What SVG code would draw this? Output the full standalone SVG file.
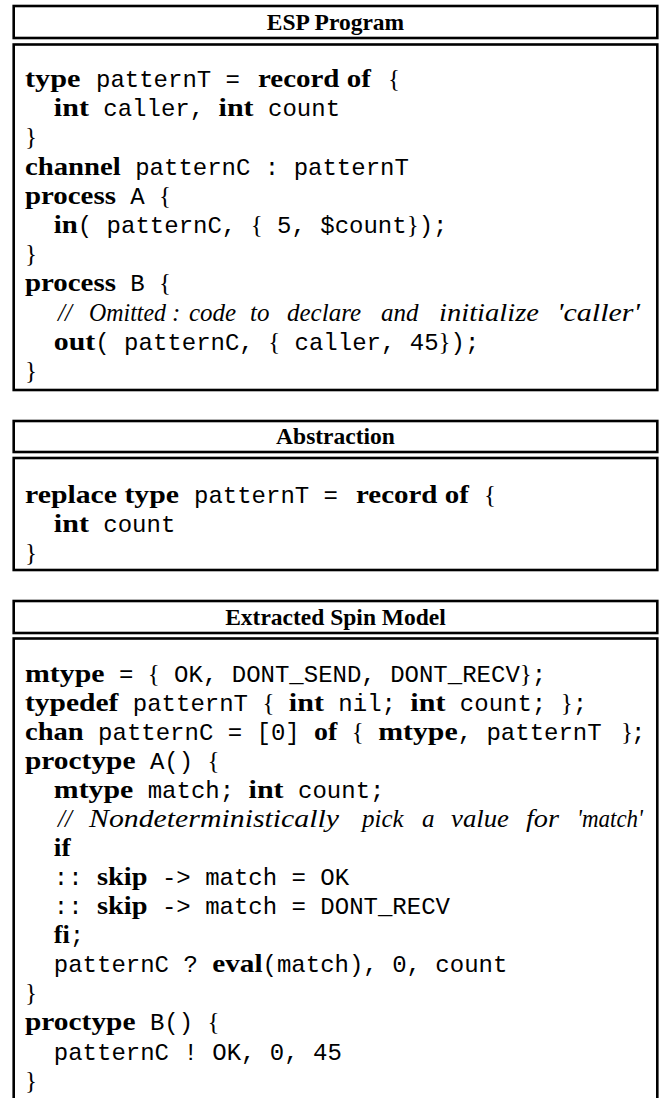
<svg xmlns="http://www.w3.org/2000/svg" width="659" height="1098" viewBox="0 0 659 1098" xml:space="preserve">
<style>
rect.b { fill: none; stroke: #000; stroke-width: 2.6; }
text { white-space: pre; fill: #000; }
.t { font-family: "Liberation Serif", serif; font-weight: bold; font-size: 23.5px; text-anchor: middle; }
.code { font-family: "Liberation Mono", monospace; font-size: 24px; }
.k { font-family: "Liberation Serif", serif; font-weight: bold; font-size: 25px; }
.r { font-family: "Liberation Serif", serif; font-size: 25px; }
.i { font-family: "Liberation Serif", serif; font-style: italic; font-size: 25px; }
</style>
<rect x="0" y="0" width="659" height="1098" fill="#fff"/>
<g id="esp-title">
<rect class="b" x="13.7" y="6" width="643.6" height="32"/>
<text class="t" x="335.5" y="30">ESP Program</text>
</g>
<g id="esp-program">
<rect class="b" x="13.7" y="44.5" width="643.6" height="345.5"/>
<text class="code" x="25" y="87"><tspan class="k" textLength="55.5" lengthAdjust="spacingAndGlyphs">type</tspan><tspan x="96">patternT =</tspan><tspan class="k" x="258" textLength="112.8" lengthAdjust="spacingAndGlyphs">record of</tspan><tspan class="r" x="388">{</tspan></text>
<text class="code" x="25" y="116">  <tspan class="k" textLength="35.1" lengthAdjust="spacingAndGlyphs">int</tspan> caller, <tspan class="k" textLength="35.1" lengthAdjust="spacingAndGlyphs">int</tspan> count</text>
<text class="r" x="25" y="145">}</text>
<text class="code" x="25" y="175"><tspan class="k" textLength="95.8" lengthAdjust="spacingAndGlyphs">channel</tspan> patternC : patternT</text>
<text class="code" x="25" y="204"><tspan class="k" textLength="90.9" lengthAdjust="spacingAndGlyphs">process</tspan> A <tspan class="r">{</tspan></text>
<text class="code" x="25" y="233">  <tspan class="k" textLength="24" lengthAdjust="spacingAndGlyphs">in</tspan>( patternC, <tspan class="r">{</tspan> 5, $count<tspan class="r">}</tspan>);</text>
<text class="r" x="25" y="262">}</text>
<text class="code" x="25" y="291"><tspan class="k" textLength="90.9" lengthAdjust="spacingAndGlyphs">process</tspan> B <tspan class="r">{</tspan></text>
<text class="i" y="321"><tspan class="r" x="58">//</tspan><tspan x="89" textLength="77" lengthAdjust="spacingAndGlyphs">Omitted</tspan><tspan class="r" x="172">:</tspan><tspan x="189">code</tspan><tspan x="250">to</tspan><tspan x="287">declare</tspan><tspan x="381">and</tspan><tspan x="439" textLength="100" lengthAdjust="spacingAndGlyphs">initialize</tspan><tspan x="557" textLength="83" lengthAdjust="spacingAndGlyphs">'caller'</tspan></text>
<text class="code" x="25" y="350">  <tspan class="k" textLength="41.5" lengthAdjust="spacingAndGlyphs">out</tspan>( patternC, <tspan class="r">{</tspan> caller, 45<tspan class="r">}</tspan>);</text>
<text class="r" x="25" y="379">}</text>
</g>
<g id="abstraction-title">
<rect class="b" x="13.7" y="421" width="643.6" height="31"/>
<text class="t" x="335.5" y="444">Abstraction</text>
</g>
<g id="abstraction">
<rect class="b" x="13.7" y="458" width="643.6" height="112"/>
<text class="code" x="25" y="503"><tspan class="k" textLength="154" lengthAdjust="spacingAndGlyphs">replace type</tspan><tspan x="194">patternT =</tspan><tspan class="k" x="356" textLength="112.8" lengthAdjust="spacingAndGlyphs">record of</tspan><tspan class="r" x="484">{</tspan></text>
<text class="code" x="25" y="532">  <tspan class="k" textLength="35.1" lengthAdjust="spacingAndGlyphs">int</tspan> count</text>
<text class="r" x="25" y="561">}</text>
</g>
<g id="spin-title">
<rect class="b" x="13.7" y="601" width="643.6" height="32"/>
<text class="t" x="335.5" y="625">Extracted Spin Model</text>
</g>
<g id="spin-model">
<rect class="b" x="13.7" y="638.5" width="643.6" height="480"/>
<text class="code" x="25" y="682"><tspan class="k" textLength="79.5" lengthAdjust="spacingAndGlyphs">mtype</tspan> = <tspan class="r">{</tspan> OK, DONT_SEND, DONT_RECV<tspan class="r">}</tspan>;</text>
<text class="code" x="25" y="711"><tspan class="k" textLength="93.4" lengthAdjust="spacingAndGlyphs">typedef</tspan> patternT <tspan class="r">{</tspan> <tspan class="k" textLength="35.1" lengthAdjust="spacingAndGlyphs">int</tspan> nil; <tspan class="k" textLength="35.1" lengthAdjust="spacingAndGlyphs">int</tspan> count; <tspan class="r">}</tspan>;</text>
<text class="code" x="25" y="740"><tspan class="k" textLength="58.7" lengthAdjust="spacingAndGlyphs">chan</tspan> patternC = [0] <tspan class="k" textLength="23.2" lengthAdjust="spacingAndGlyphs">of</tspan> <tspan class="r">{</tspan> <tspan class="k" textLength="79.5" lengthAdjust="spacingAndGlyphs">mtype</tspan>, patternT<tspan class="r" x="621">}</tspan><tspan x="631">;</tspan></text>
<text class="code" x="25" y="769"><tspan class="k" textLength="110.5" lengthAdjust="spacingAndGlyphs">proctype</tspan> A() <tspan class="r">{</tspan></text>
<text class="code" x="25" y="798">  <tspan class="k" textLength="79.5" lengthAdjust="spacingAndGlyphs">mtype</tspan> match; <tspan class="k" textLength="35.1" lengthAdjust="spacingAndGlyphs">int</tspan> count;</text>
<text class="i" y="827"><tspan class="r" x="58">//</tspan><tspan x="89" textLength="250" lengthAdjust="spacingAndGlyphs">Nondeterministically</tspan><tspan x="362">pick</tspan><tspan x="422">a</tspan><tspan x="451" textLength="58" lengthAdjust="spacingAndGlyphs">value</tspan><tspan x="526" textLength="33" lengthAdjust="spacingAndGlyphs">for</tspan><tspan x="577" textLength="66" lengthAdjust="spacingAndGlyphs">'match'</tspan></text>
<text class="code" x="25" y="856">  <tspan class="k" textLength="16.8" lengthAdjust="spacingAndGlyphs">if</tspan></text>
<text class="code" x="25" y="885">  :: <tspan class="k" textLength="50.5" lengthAdjust="spacingAndGlyphs">skip</tspan> -&gt; match = OK</text>
<text class="code" x="25" y="914">  :: <tspan class="k" textLength="50.5" lengthAdjust="spacingAndGlyphs">skip</tspan> -&gt; match = DONT_RECV</text>
<text class="code" x="25" y="943">  <tspan class="k" textLength="16" lengthAdjust="spacingAndGlyphs">fi</tspan>;</text>
<text class="code" x="25" y="972">  patternC ? <tspan class="k" textLength="50.3" lengthAdjust="spacingAndGlyphs">eval</tspan>(match), 0, count</text>
<text class="r" x="25" y="1001">}</text>
<text class="code" x="25" y="1030"><tspan class="k" textLength="110.5" lengthAdjust="spacingAndGlyphs">proctype</tspan> B() <tspan class="r">{</tspan></text>
<text class="code" x="25" y="1060">  patternC ! OK, 0, 45</text>
<text class="r" x="25" y="1089">}</text>
</g>
</svg>
